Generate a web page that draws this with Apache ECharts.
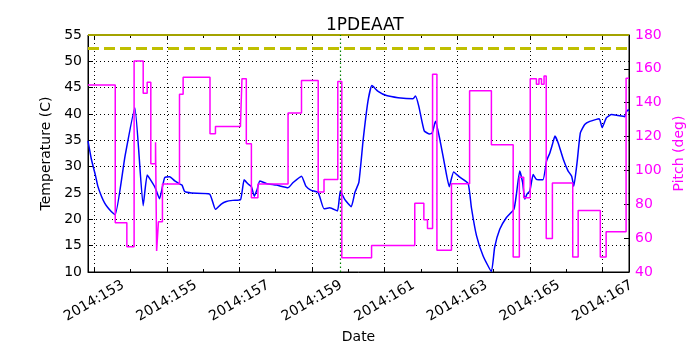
<!DOCTYPE html>
<html>
<head>
<meta charset="utf-8">
<script src="https://cdn.jsdelivr.net/npm/echarts@6/dist/echarts.min.js"></script>
<style>
  html, body { margin: 0; padding: 0; background: #fff; }
  #chart { width: 700px; height: 350px; }
</style>
</head>
<body>
<div id="chart"></div>
<script>
// day of year 2014
var tempDays = [152.83, 152.92, 152.97, 153.03, 153.10, 153.20, 153.29, 153.38, 153.47, 153.58,
  153.85, 154.12, 154.35, 154.46, 154.57, 154.68, 154.80, 154.94, 155.08, 155.22, 155.36, 155.42,
  155.49, 155.68, 156.18, 156.34, 156.50, 156.64, 156.82, 157.03, 157.13, 157.24, 157.33, 157.41,
  157.49, 157.56, 157.74, 158.02, 158.34, 158.48, 158.71, 158.83, 158.98, 159.17, 159.33, 159.49,
  159.70, 159.78, 159.90, 160.08, 160.18, 160.29, 160.41, 160.54, 160.65, 160.82, 161.05, 161.37,
  161.78, 161.85, 161.94, 162.09, 162.24, 162.31, 162.40, 162.52, 162.66, 162.78, 162.90, 163.07,
  163.30, 163.39, 163.53, 163.71, 163.94, 164.03, 164.17, 164.35, 164.56, 164.63, 164.72, 164.80,
  164.86, 164.92, 165.00, 165.09, 165.18, 165.36, 165.46, 165.55, 165.62, 165.69, 165.78, 165.92,
  166.05, 166.15, 166.21, 166.30, 166.39, 166.51, 166.65, 166.91, 166.99, 167.11, 167.25, 167.43,
  167.61, 167.66, 167.73];
var tempValues = [34.9, 31.5, 30.1, 28.5, 26.3, 24.4, 23.1, 22.2, 21.5, 20.9,
  32.0, 41.2, 22.6, 28.4, 27.3, 26.0, 23.9, 27.9, 28.1, 27.3, 26.7, 26.5,
  25.3, 25.0, 24.8, 21.9, 22.9, 23.4, 23.6, 23.7, 27.5, 26.7, 26.2, 24.4,
  25.7, 27.3, 26.8, 26.5, 26.0, 27.0, 28.2, 26.3, 25.5, 25.1, 22.0, 22.2,
  21.6, 25.4, 23.8, 22.4, 25.1, 27.0, 35.2, 42.4, 45.4, 44.3, 43.5, 43.1,
  42.9, 43.4, 41.5, 36.8, 36.2, 36.4, 38.6, 35.2, 30.1, 26.2, 29.0, 28.0,
  26.8, 22.2, 16.9, 13.1, 10.1, 14.7, 18.1, 20.3, 21.9, 24.8, 29.2, 27.0,
  23.8, 24.8, 25.4, 28.5, 27.6, 27.5, 31.1, 32.6, 34.2, 35.8, 34.5, 31.4,
  29.2, 28.2, 26.3, 30.8, 36.4, 38.0, 38.6, 39.1, 37.4, 39.3, 39.9, 39.7,
  39.5, 40.5, 40.8];

// pitch holds each value until the next change
var pitchDays = [152.83, 153.58, 153.90, 154.10, 154.35, 154.46, 154.56, 154.69, 154.72, 154.77,
  154.88, 155.35, 155.45, 156.19, 156.34, 157.03, 157.07, 157.19, 157.33, 157.51, 158.34, 158.71,
  159.17, 159.33, 159.71, 159.82, 160.08, 160.13, 160.64, 161.83, 162.08, 162.18, 162.32, 162.44,
  162.84, 163.34, 163.94, 164.54, 164.71, 164.83, 165.01, 165.18, 165.25, 165.32, 165.39, 165.45,
  165.62, 166.18, 166.33, 166.94, 167.10, 167.65, 167.73];
var pitchValues = [150.5, 69.1, 54.9, 164.7, 145.6, 152.1, 104.0, 116.6, 52.4, 69.7,
  92.0, 145.0, 155.1, 121.7, 126.0, 127.5, 154.1, 115.8, 83.8, 92.0, 133.9, 153.1,
  87.3, 94.6, 152.5, 48.4, 47.8, 48.4, 55.7, 80.6, 70.8, 65.7, 156.8, 52.9,
  92.2, 147.0, 115.2, 48.8, 96.0, 83.8, 154.1, 150.9, 154.1, 150.9, 155.8, 59.8,
  92.6, 48.8, 76.3, 48.8, 63.8, 154.5, 154.5];

var majorDays = [153, 155, 157, 159, 161, 163, 165, 167];
var minorDays = [154, 156, 158, 160, 162, 164, 166];
var tempLimits = [52.5, 55];
var markerDay = 159.77;
var dayMin = 152.83, dayMax = 167.73;

var font = 'DejaVu Sans';
var chart = echarts.init(document.getElementById('chart'));

function pairs(xs, ys) {
  return xs.map(function (x, i) { return [x, ys[i]]; });
}

function xAxisDef(pos, ticks, len, withLabels) {
  return {
    type: 'value', position: pos, min: dayMin, max: dayMax,
    axisLine: { show: withLabels, onZero: false, lineStyle: { color: '#000', width: 1 } },
    axisTick: { show: true, inside: true, length: len, customValues: ticks, lineStyle: { color: '#000' } },
    axisLabel: withLabels ? {
      show: true, customValues: ticks, rotate: 30, align: 'center', verticalAlign: 'middle',
      margin: 29, color: '#000', fontFamily: font, fontSize: 14,
      formatter: function (v) { return '2014:' + v; }
    } : { show: false },
    splitLine: { show: withLabels && pos === 'bottom', lineStyle: { color: '#000', type: [1, 3], width: 1 } },
    name: withLabels && pos === 'bottom' ? 'Date' : '',
    nameLocation: 'middle', nameGap: 48,
    nameTextStyle: { color: '#000', fontFamily: font, fontSize: 14 }
  };
}

chart.setOption({
  animation: false,
  backgroundColor: '#fff',
  title: {
    text: '1PDEAAT', left: 321, top: 12,
    textStyle: { color: '#000', fontFamily: font, fontSize: 17, fontWeight: 'normal' }
  },
  grid: { left: 88, right: 71, top: 35, bottom: 78, show: true, borderColor: '#000', borderWidth: 1 },
  xAxis: [
    xAxisDef('bottom', majorDays, 5, true),
    xAxisDef('bottom', minorDays, 3, false),
    xAxisDef('top', majorDays, 5, false),
    xAxisDef('top', minorDays, 3, false)
  ],
  yAxis: [
    {
      type: 'value', position: 'left', min: 10, max: 55, interval: 5,
      name: 'Temperature (C)', nameLocation: 'middle', nameGap: 30, nameRotate: 90,
      nameTextStyle: { color: '#000', fontFamily: font, fontSize: 14 },
      axisLine: { show: true, lineStyle: { color: '#000' } },
      axisTick: { show: true, inside: true, length: 5, lineStyle: { color: '#000' } },
      axisLabel: { color: '#000', fontFamily: font, fontSize: 14, margin: 6 },
      splitLine: { show: true, lineStyle: { color: '#000', type: [1, 3], width: 1 } }
    },
    {
      type: 'value', position: 'right', min: 40, max: 180, interval: 20,
      name: 'Pitch (deg)', nameLocation: 'middle', nameGap: 38, nameRotate: 90,
      nameTextStyle: { color: '#ff00ff', fontFamily: font, fontSize: 14 },
      axisLine: { show: true, lineStyle: { color: '#000' } },
      axisTick: { show: true, inside: true, length: 5, lineStyle: { color: '#000' } },
      axisLabel: { color: '#ff00ff', fontFamily: font, fontSize: 14, margin: 6 },
      splitLine: { show: false }
    }
  ],
  series: [
    {
      name: 'Temperature', type: 'line', xAxisIndex: 0, yAxisIndex: 0,
      data: pairs(tempDays, tempValues), showSymbol: false, smooth: 0.15,
      lineStyle: { color: '#0000ff', width: 1.5 }, z: 2,
      markLine: {
        silent: true, symbol: 'none', label: { show: false },
        data: [
          { yAxis: tempLimits[0], lineStyle: { color: '#bfbf00', width: 3, type: [11, 5] } },
          { yAxis: tempLimits[1], lineStyle: { color: '#a3a300', width: 2, type: 'solid' } },
          { xAxis: markerDay, lineStyle: { color: '#008000', width: 1.2, type: [1.5, 2.5] } }
        ]
      }
    },
    {
      name: 'Pitch', type: 'line', xAxisIndex: 0, yAxisIndex: 1,
      data: pairs(pitchDays, pitchValues), showSymbol: false, step: 'end',
      lineStyle: { color: '#ff00ff', width: 1.5 }, z: 3
    }
  ]
});
</script>
</body>
</html>
